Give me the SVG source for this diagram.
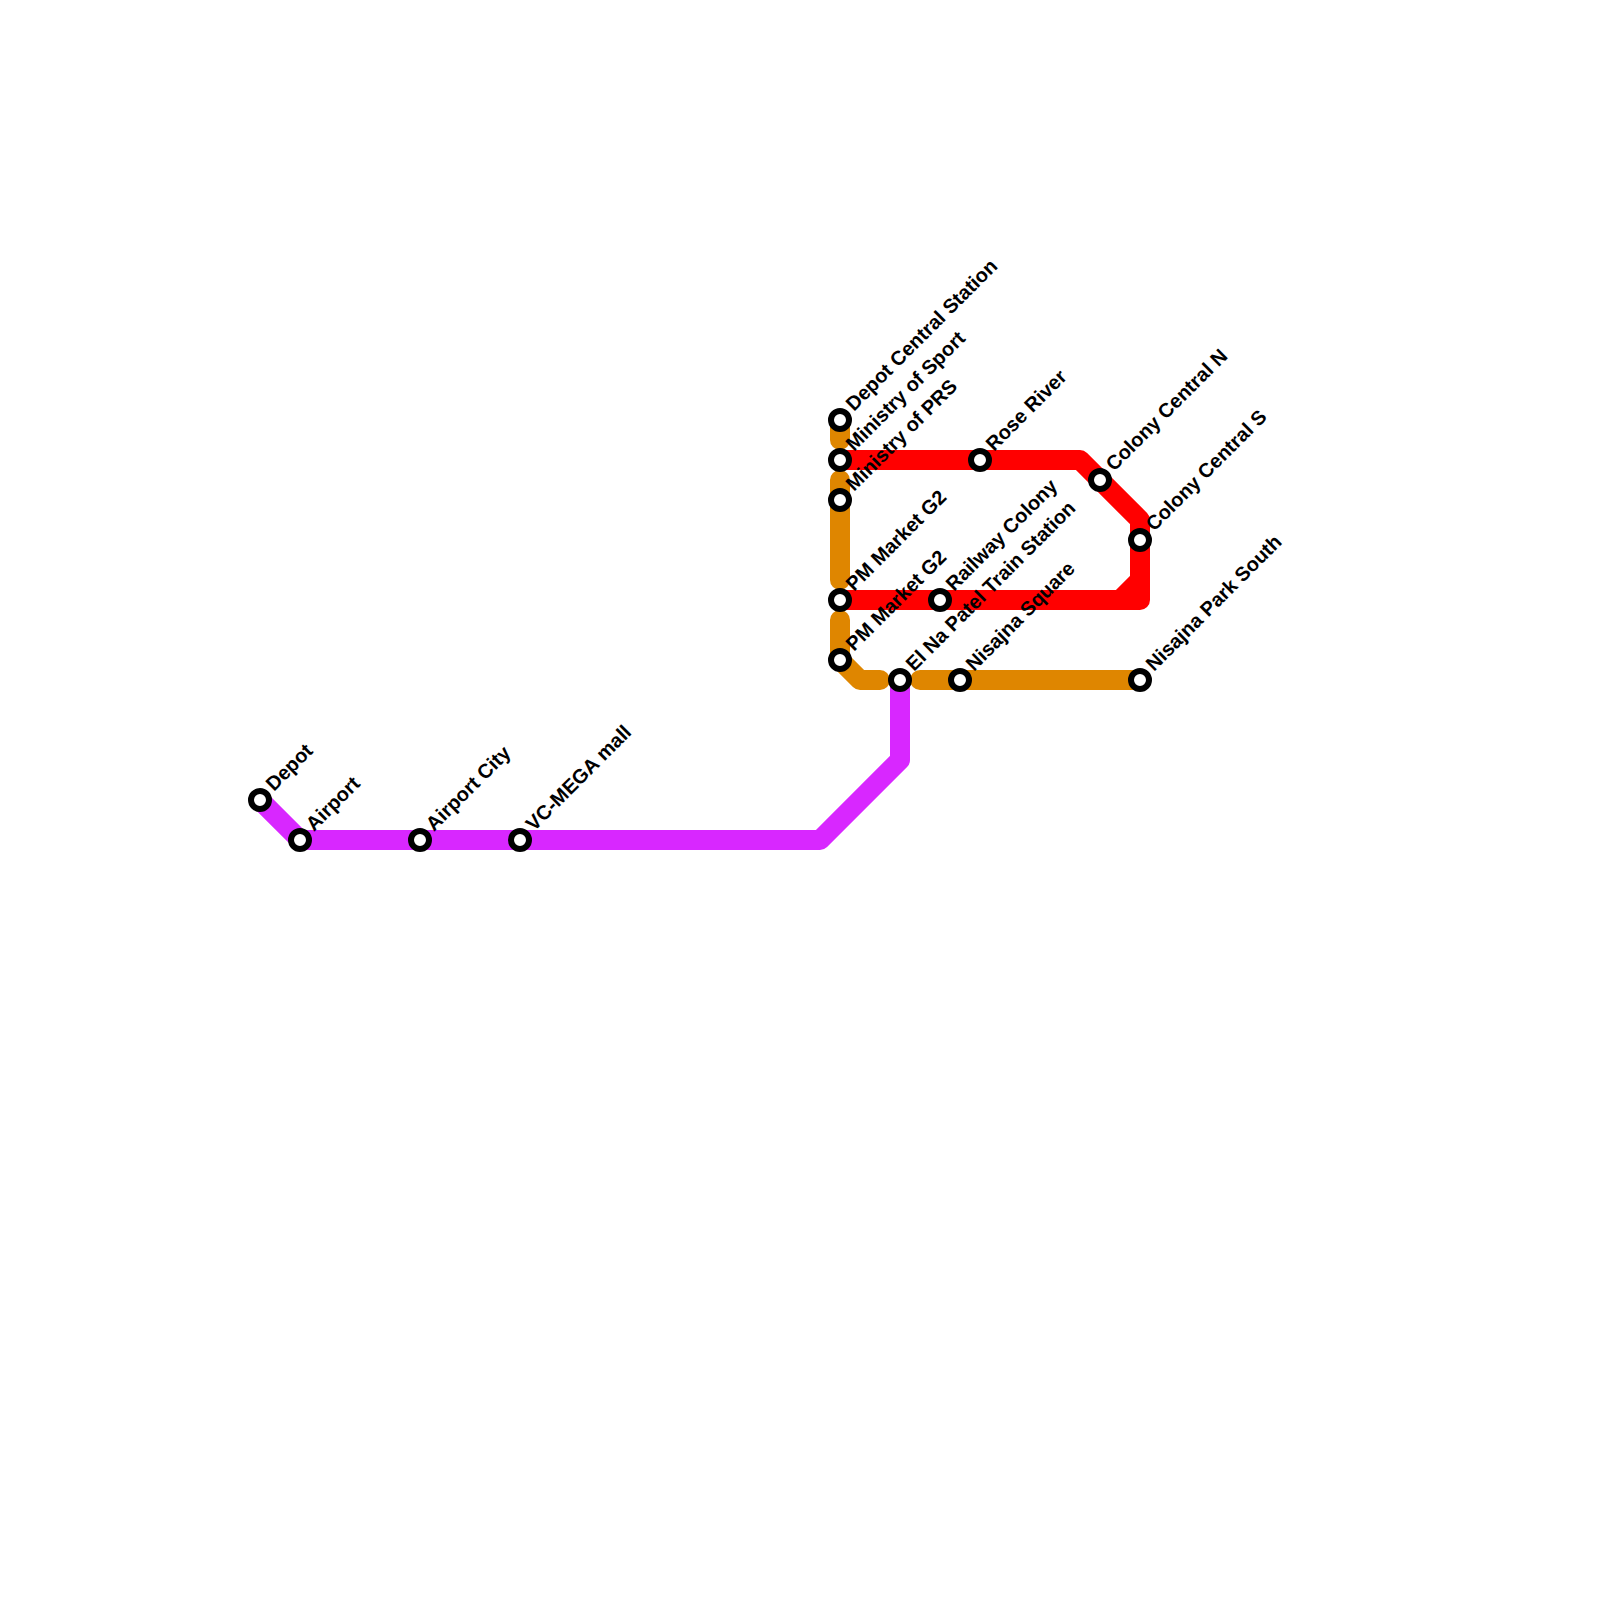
<svg xmlns="http://www.w3.org/2000/svg" width="1600" height="1600" viewBox="0 0 1600 1600">
<style>
.l{fill:none;stroke-width:20;stroke-linejoin:round;stroke-linecap:round}
.o{stroke:#df8600}.r{stroke:#ff0000}.p{stroke:#d827ff}
.s{fill:#fff;stroke:#000;stroke-width:6}
.t{font-family:"Liberation Sans",Arial,sans-serif;font-size:20px;font-weight:700;fill:#000;text-rendering:geometricPrecision}
</style>
<rect width="1600" height="1600" fill="#fff"/>
<g id="connectors">
<path class="l o" d="M840 420V440M840 480V580M840 620V660L860 680H880M920 680H1140"/>
<path class="l r" d="M840 460H1080L1140 520V600H840M1120 600L1140 580"/>
<path class="l p" d="M260 800L300 840H820L900 760V680"/>
</g>
<g id="n1"><circle class="s" cx="260" cy="800" r="9"/><text class="t" transform="translate(274 792) rotate(-45)">Depot</text></g>
<g id="n2"><circle class="s" cx="300" cy="840" r="9"/><text class="t" transform="translate(314 832) rotate(-45)">Airport</text></g>
<g id="n3"><circle class="s" cx="420" cy="840" r="9"/><text class="t" transform="translate(434 832) rotate(-45)">Airport City</text></g>
<g id="n4"><circle class="s" cx="520" cy="840" r="9"/><text class="t" transform="translate(534 832) rotate(-45)">VC-MEGA mall</text></g>
<g id="n5"><circle class="s" cx="840" cy="420" r="9"/><text class="t" transform="translate(854 412) rotate(-45)">Depot Central Station</text></g>
<g id="n6"><circle class="s" cx="840" cy="460" r="9"/><text class="t" transform="translate(854 452) rotate(-45)">Ministry of Sport</text></g>
<g id="n7"><circle class="s" cx="840" cy="500" r="9"/><text class="t" transform="translate(854 492) rotate(-45)">Ministry of PRS</text></g>
<g id="n8"><circle class="s" cx="840" cy="600" r="9"/><text class="t" transform="translate(854 592) rotate(-45)">PM Market G2</text></g>
<g id="n9"><circle class="s" cx="840" cy="660" r="9"/><text class="t" transform="translate(854 652) rotate(-45)">PM Market G2</text></g>
<g id="n10"><circle class="s" cx="900" cy="680" r="9"/><text class="t" transform="translate(914 672) rotate(-45)">El Na Patel Train Station</text></g>
<g id="n11"><circle class="s" cx="940" cy="600" r="9"/><text class="t" transform="translate(954 592) rotate(-45)">Railway Colony</text></g>
<g id="n12"><circle class="s" cx="960" cy="680" r="9"/><text class="t" transform="translate(974 672) rotate(-45)">Nisajna Square</text></g>
<g id="n13"><circle class="s" cx="980" cy="460" r="9"/><text class="t" transform="translate(994 452) rotate(-45)">Rose River</text></g>
<g id="n14"><circle class="s" cx="1100" cy="480" r="9"/><text class="t" transform="translate(1114 472) rotate(-45)">Colony Central N</text></g>
<g id="n15"><circle class="s" cx="1140" cy="540" r="9"/><text class="t" transform="translate(1154 532) rotate(-45)">Colony Central S</text></g>
<g id="n16"><circle class="s" cx="1140" cy="680" r="9"/><text class="t" transform="translate(1154 672) rotate(-45)">Nisajna Park South</text></g>
</svg>
